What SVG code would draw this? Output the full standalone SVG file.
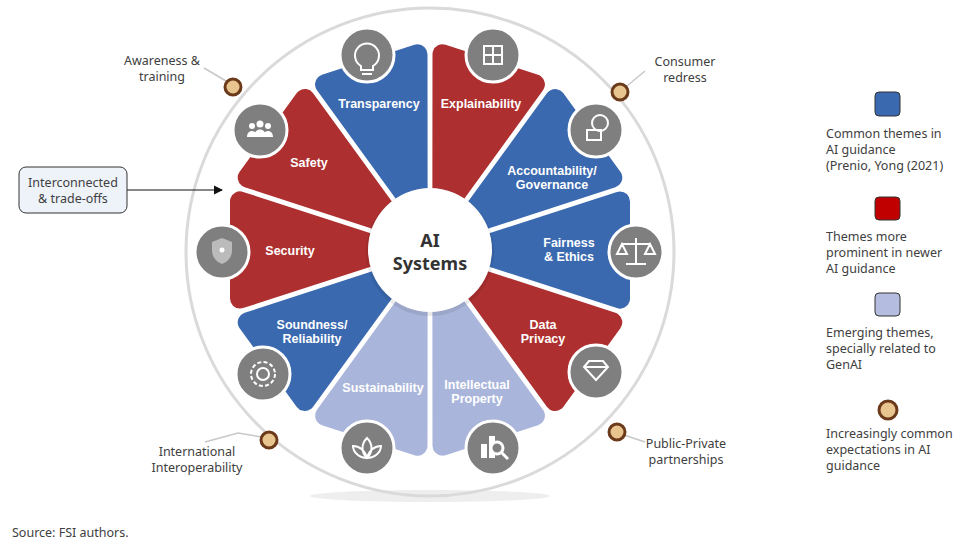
<svg xmlns="http://www.w3.org/2000/svg" width="964" height="544" viewBox="0 0 964 544">
<defs>
<style>
.w{stroke-width:20;stroke-linejoin:round}
.b{fill:#3a69b0;stroke:#3a69b0}.r{fill:#ad2f2f;stroke:#ad2f2f}.l{fill:#aab5db;stroke:#aab5db}
.ic{fill:#7f7f7f;stroke:#fff;stroke-width:3}
.g{fill:none;stroke:#fff;stroke-width:2}
.lb{font-family:"Liberation Sans",Arial,sans-serif;font-weight:bold;font-size:12.5px;fill:#fff;text-anchor:middle}
.t{font-family:"Noto Sans",sans-serif;font-size:12.5px;fill:#404040}
.dot{fill:#e8c48f;stroke:#6b3a1a;stroke-width:3}
.ld{stroke:#c8c8c8;stroke-width:1.5;fill:none}
</style>
<polygon id="wedge" points="430,210 478.6,60 381.4,60"/>
<marker id="ar" markerWidth="8" markerHeight="8" refX="7" refY="4" orient="auto"><path d="M0,0 L8,4 L0,8z" fill="#111"/></marker>
</defs>
<rect width="964" height="544" fill="#fff"/>
<ellipse cx="430" cy="496" rx="120" ry="6" fill="#eee"/>
<circle cx="430" cy="252" r="244" fill="none" stroke="#dadada" stroke-width="3"/>
<g id="wedges">
<use href="#wedge" class="w b" transform="rotate(-18 430 250)"/>
<use href="#wedge" class="w r" transform="rotate(18 430 250)"/>
<use href="#wedge" class="w b" transform="rotate(54 430 250)"/>
<use href="#wedge" class="w b" transform="rotate(90 430 250)"/>
<use href="#wedge" class="w r" transform="rotate(126 430 250)"/>
<use href="#wedge" class="w l" transform="rotate(162 430 250)"/>
<use href="#wedge" class="w l" transform="rotate(198 430 250)"/>
<use href="#wedge" class="w b" transform="rotate(234 430 250)"/>
<use href="#wedge" class="w r" transform="rotate(270 430 250)"/>
<use href="#wedge" class="w r" transform="rotate(306 430 250)"/>
</g>
<g id="labels">
<text class="lb" x="379" y="108">Transparency</text>
<text class="lb" x="481" y="108">Explainability</text>
<text class="lb" x="552" y="175">Accountability/<tspan x="552" dy="14">Governance</tspan></text>
<text class="lb" x="569" y="247">Fairness<tspan x="569" dy="14">&amp; Ethics</tspan></text>
<text class="lb" x="543" y="329">Data<tspan x="543" dy="14">Privacy</tspan></text>
<text class="lb" x="477" y="389">Intellectual<tspan x="477" dy="14">Property</tspan></text>
<text class="lb" x="383" y="392">Sustainability</text>
<text class="lb" x="312" y="329">Soundness/<tspan x="312" dy="14">Reliability</tspan></text>
<text class="lb" x="290" y="255">Security</text>
<text class="lb" x="309" y="167">Safety</text>
</g>
<g id="icons">
<circle class="ic" cx="367" cy="55" r="27"/><path class="g" d="M361,66 a12,12 0 1 1 12,0 v4 h-12z M362,74 h10"/>
<circle class="ic" cx="493" cy="55" r="27"/><rect class="g" x="484" y="46" width="18" height="18"/><path class="g" d="M493,46 v18 M484,55 h18"/>
<circle class="ic" cx="596" cy="130" r="27"/><circle class="g" cx="600" cy="123" r="8"/><rect class="g" x="587" y="130" width="14" height="10"/>
<circle class="ic" cx="636" cy="252" r="27"/><path class="g" d="M636,238 v26 M626,264 h20 M622,244 h28 M622,244 l-5,10 h10z M650,244 l-5,10 h10z"/>
<circle class="ic" cx="596" cy="372" r="27"/><path class="g" d="M584,367 l5,-6 h14 l5,6 l-12,13z M584,367 h24"/>
<circle class="ic" cx="493" cy="448" r="27"/><rect x="481" y="444" width="6" height="14" fill="#fff"/><rect x="489" y="436" width="6" height="22" fill="#fff"/><circle cx="497" cy="448" r="6" fill="#7f7f7f" stroke="#fff" stroke-width="3"/><path d="M501,452 l7,7" stroke="#fff" stroke-width="3"/>
<circle class="ic" cx="367" cy="448" r="27"/><path class="g" d="M367,438 c6,6 6,14 0,20 c-6,-6 -6,-14 0,-20z M367,458 c-8,0 -14,-6 -14,-12 c6,0 12,4 14,12z M367,458 c8,0 14,-6 14,-12 c-6,0 -12,4 -14,12z"/>
<circle class="ic" cx="263" cy="374" r="27"/><circle class="g" cx="263" cy="374" r="6"/><circle cx="263" cy="374" r="12" fill="none" stroke="#fff" stroke-width="2" stroke-dasharray="4 2.3"/>
<circle class="ic" cx="222" cy="252" r="27"/><path d="M212,242 l10,-4 l10,4 v8 c0,8 -5,12 -10,14 c-5,-2 -10,-6 -10,-14z" fill="#bbb"/><circle cx="222" cy="250" r="2.5" fill="#fff"/>
<circle class="ic" cx="260" cy="130" r="27"/><circle cx="252" cy="126" r="3" fill="#fff"/><circle cx="260" cy="124" r="3.5" fill="#fff"/><circle cx="268" cy="126" r="3" fill="#fff"/><path d="M247,137 c0,-8 10,-8 10,0z M254,137 c0,-10 12,-10 12,0z M263,137 c0,-8 10,-8 10,0z" fill="#fff"/>
</g>
<g id="center">
<circle cx="430" cy="252" r="64" fill="#000" opacity="0.08"/>
<circle cx="430" cy="250" r="62" fill="#fff"/>
<text x="430" y="247" font-family="Noto Sans,sans-serif" font-weight="bold" font-size="18" fill="#333" text-anchor="middle">AI</text>
<text x="430" y="270" font-family="Noto Sans,sans-serif" font-weight="bold" font-size="18" fill="#333" text-anchor="middle">Systems</text>
</g>
<g id="connectors">
<path class="ld" d="M226,81 L204,68"/>
<path class="ld" d="M627,86 L645,71"/>
<path class="ld" d="M262,437 L238,433 L205,442"/>
<path class="ld" d="M624,435 L645,442"/>
<path d="M127,190 L222,190" stroke="#111" stroke-width="1.2" marker-end="url(#ar)"/>
</g>
<g id="dots">
<circle class="dot" cx="233" cy="87" r="8"/>
<circle class="dot" cx="620" cy="92" r="8"/>
<circle class="dot" cx="269" cy="440" r="8"/>
<circle class="dot" cx="617" cy="432" r="8"/>
</g>
<g id="outerlabels" class="t">
<text class="t" x="162" y="65" text-anchor="middle">Awareness &amp;<tspan x="162" dy="16">training</tspan></text>
<text class="t" x="685" y="66" text-anchor="middle">Consumer<tspan x="685" dy="16">redress</tspan></text>
<text class="t" x="197" y="456" text-anchor="middle">International<tspan x="197" dy="16">Interoperability</tspan></text>
<text class="t" x="686" y="448" text-anchor="middle">Public-Private<tspan x="686" dy="16">partnerships</tspan></text>
</g>
<g id="tradeoffs">
<rect x="19" y="167" width="108" height="46" rx="7" fill="#eef3fa" stroke="#333" stroke-width="1"/>
<text class="t" x="73" y="187" text-anchor="middle" font-size="12">Interconnected<tspan x="73" dy="16">&amp; trade-offs</tspan></text>
</g>
<g id="legend">
<rect x="875" y="92" width="25" height="24" rx="4" fill="#3a69b0" stroke="#333"/>
<text class="t" x="826" y="138" font-size="12">Common themes in<tspan x="826" dy="16">AI guidance</tspan><tspan x="826" dy="16">(Prenio, Yong (2021)</tspan></text>
<rect x="875" y="197" width="25" height="23" rx="4" fill="#c00000" stroke="#333"/>
<text class="t" x="826" y="241" font-size="12">Themes more<tspan x="826" dy="16">prominent in newer</tspan><tspan x="826" dy="16">AI guidance</tspan></text>
<rect x="875" y="293" width="25" height="23" rx="4" fill="#b4bde0" stroke="#333"/>
<text class="t" x="826" y="337" font-size="12">Emerging themes,<tspan x="826" dy="16">specially related to</tspan><tspan x="826" dy="16">GenAI</tspan></text>
<circle class="dot" cx="888" cy="410" r="9"/>
<text class="t" x="826" y="438" font-size="12">Increasingly common<tspan x="826" dy="16">expectations in AI</tspan><tspan x="826" dy="16">guidance</tspan></text>
</g>
<text class="t" x="12" y="537" font-size="13.5" fill="#222">Source: FSI authors.</text>
</svg>
